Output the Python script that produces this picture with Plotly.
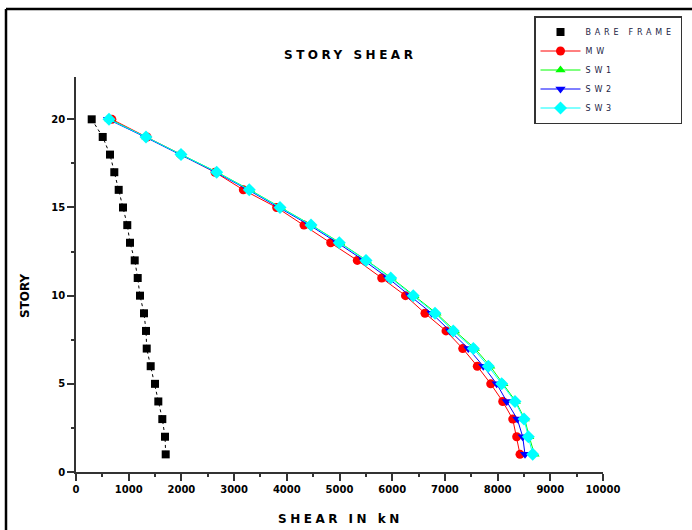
import plotly.graph_objects as go

stories = [20, 19, 18, 17, 16, 15, 14, 13, 12, 11, 10, 9, 8, 7, 6, 5, 4, 3, 2, 1]

bare_frame = [298, 507, 645, 727, 810, 892, 973, 1025, 1114, 1171,
              1214, 1290, 1328, 1342, 1417, 1499, 1562, 1638, 1689, 1702]
mw = [680, 1347, 1992, 2638, 3175, 3808, 4326, 4833, 5338, 5801,
      6252, 6622, 7021, 7338, 7615, 7869, 8097, 8287, 8362, 8425]
sw1 = [640, 1335, 2000, 2680, 3300, 3885, 4470, 5010, 5515, 5990,
       6420, 6840, 7190, 7570, 7860, 8110, 8345, 8515, 8600, 8700]
sw2 = [610, 1310, 1975, 2650, 3265, 3850, 4430, 4960, 5460, 5920,
       6338, 6749, 7097, 7444, 7729, 7983, 8173, 8374, 8476, 8520]
sw3 = [626, 1328, 1992, 2670, 3288, 3871, 4459, 4996, 5503, 5972,
       6400, 6812, 7159, 7539, 7824, 8078, 8330, 8501, 8583, 8666]

x_ticks = [0, 1000, 2000, 3000, 4000, 5000, 6000, 7000, 8000, 9000, 10000]
x_tick_labels = ["0", "1000", "2000", "3000", "4000", "5000", "6000",
                 "7000", "8000", "9000", "10000"]
y_ticks = [0, 5, 10, 15, 20]

FONT = "DejaVu Sans"


def spaced(text, px):
    return f'<span style="letter-spacing:{px}px">{text}</span>'


fig = go.Figure()

# connecting dotted line for the bare frame (not in legend)
fig.add_trace(go.Scatter(x=bare_frame, y=stories, mode="lines",
                         line=dict(color="black", width=1, dash="dot"),
                         showlegend=False, hoverinfo="skip"))
fig.add_trace(go.Scatter(x=bare_frame, y=stories, mode="markers",
                         name=spaced("BARE FRAME", 3.8),
                         marker=dict(symbol="square", size=8, color="black")))
fig.add_trace(go.Scatter(x=mw, y=stories, mode="lines+markers",
                         name=spaced("MW", 3.8),
                         line=dict(color="#ff0000", width=1),
                         marker=dict(symbol="circle", size=9, color="#ff0000")))
fig.add_trace(go.Scatter(x=sw1, y=stories, mode="lines+markers",
                         name=spaced("SW1", 3.8),
                         line=dict(color="#00ff00", width=1),
                         marker=dict(symbol="triangle-up", size=9, color="#00ff00")))
fig.add_trace(go.Scatter(x=sw2, y=stories, mode="lines+markers",
                         name=spaced("SW2", 3.8),
                         line=dict(color="#0000ff", width=1),
                         marker=dict(symbol="triangle-down", size=9, color="#0000ff")))
fig.add_trace(go.Scatter(x=sw3, y=stories, mode="lines+markers",
                         name=spaced("SW3", 3.8),
                         line=dict(color="#00ffff", width=1),
                         marker=dict(symbol="diamond", size=10, color="#00ffff")))

L, R, T, B = 76, 89, 77, 58
W, H = 692, 530
pw, ph = W - L - R, H - T - B


def px_x(px):
    return (px - L) / pw


def px_y(py):
    return (H - B - py) / ph


fig.update_layout(
    width=W, height=H,
    margin=dict(l=L, r=R, t=T, b=B, autoexpand=False),
    paper_bgcolor="white", plot_bgcolor="white",
    font=dict(family=FONT, color="black"),
    showlegend=True,
    legend=dict(x=px_x(534), y=px_y(16), xanchor="left", yanchor="top",
                bordercolor="#333333", borderwidth=1.5, bgcolor="white",
                font=dict(family=FONT, size=8, color="#222244"),
                itemwidth=40, tracegroupgap=0),
    xaxis=dict(range=[0, 10000], tickvals=x_ticks, ticktext=x_tick_labels,
               showgrid=False, zeroline=False,
               showline=True, linecolor="#333333", linewidth=1.5,
               ticks="outside", ticklen=7, tickwidth=1.5, tickcolor="#333333",
               minor=dict(dtick=500, ticks="outside", ticklen=3, tickwidth=1.5,
                          tickcolor="#333333", showgrid=False),
               tickfont=dict(family=FONT, size=10, color="black", weight="bold")),
    yaxis=dict(range=[0, 22.4], tickvals=y_ticks, showgrid=False, zeroline=False,
               showline=True, linecolor="#333333", linewidth=1.5,
               ticks="outside", ticklen=7, tickwidth=1.5, tickcolor="#333333",
               minor=dict(dtick=2.5, ticks="outside", ticklen=3, tickwidth=1.5,
                          tickcolor="#333333", showgrid=False),
               tickfont=dict(family=FONT, size=10, color="black", weight="bold")),
    annotations=[
        dict(text="<b>" + spaced("STORY SHEAR", 3.5) + "</b>", x=px_x(350), y=px_y(55),
             xref="paper", yref="paper", showarrow=False,
             xanchor="center", yanchor="middle",
             font=dict(family=FONT, size=12, color="black")),
        dict(text="<b>" + spaced("SHEAR IN kN", 3.5) + "</b>", x=px_x(340), y=px_y(519),
             xref="paper", yref="paper", showarrow=False,
             xanchor="center", yanchor="middle",
             font=dict(family=FONT, size=12, color="black")),
        dict(text="<b>STORY</b>", x=px_x(25), y=px_y(296), textangle=-90,
             xref="paper", yref="paper", showarrow=False,
             xanchor="center", yanchor="middle",
             font=dict(family=FONT, size=12, color="black")),
    ],
    shapes=[
        dict(type="line", xref="paper", yref="paper",
             x0=px_x(6), x1=px_x(692), y0=px_y(9), y1=px_y(9),
             line=dict(color="black", width=2.5)),
        dict(type="line", xref="paper", yref="paper",
             x0=px_x(6), x1=px_x(6), y0=px_y(9), y1=px_y(530),
             line=dict(color="black", width=2.5)),
    ],
)

fig.write_html("out.html",
               config={"displayModeBar": False},
               post_script="document.body.style.margin='0';"
                           "document.body.style.overflow='hidden';")
